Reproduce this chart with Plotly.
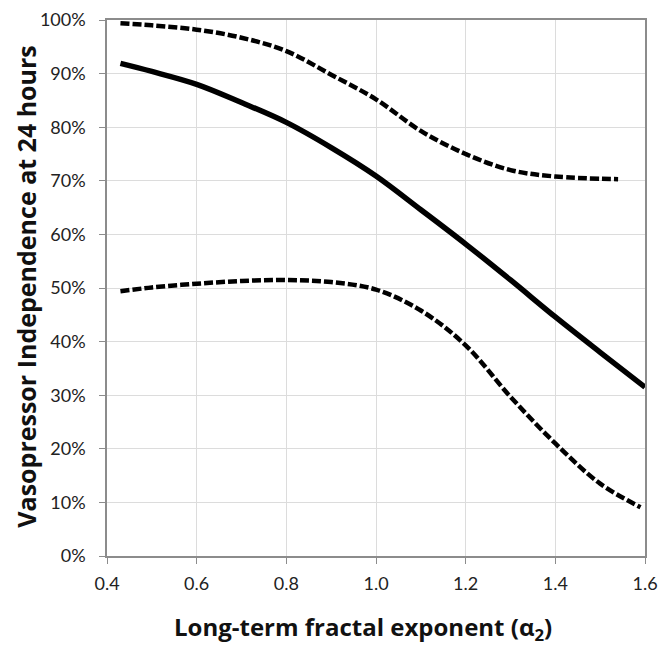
import plotly.graph_objects as go

# Estimate curve (solid)
x_est = [0.43, 0.5, 0.6, 0.7, 0.8, 0.9, 1.0, 1.1, 1.2, 1.3, 1.4, 1.5, 1.6]
y_est = [91.9, 90.4, 88.0, 84.6, 80.9, 76.2, 70.9, 64.6, 58.2, 51.5, 44.6, 38.0, 31.5]

# Upper confidence bound (dashed)
x_up = [0.43, 0.5, 0.6, 0.7, 0.8, 0.9, 1.0, 1.1, 1.2, 1.3, 1.4, 1.54]
y_up = [99.4, 99.0, 98.2, 96.7, 94.2, 89.8, 85.2, 79.3, 75.0, 72.0, 70.8, 70.3]

# Lower confidence bound (dashed)
x_lo = [0.43, 0.5, 0.6, 0.7, 0.8, 0.9, 1.0, 1.1, 1.2, 1.3, 1.4, 1.5, 1.59]
y_lo = [49.4, 50.1, 50.8, 51.3, 51.5, 51.1, 49.7, 45.8, 39.3, 29.7, 21.0, 13.5, 9.1]

y_ticks = [0, 10, 20, 30, 40, 50, 60, 70, 80, 90, 100]
y_tick_text = [f"{v}%" for v in y_ticks]
x_ticks = [0.4, 0.6, 0.8, 1.0, 1.2, 1.4, 1.6]
x_tick_text = ["0.4", "0.6", "0.8", "1.0", "1.2", "1.4", "1.6"]

x_title = "<b>Long-term fractal exponent (α<sub>2</sub>)</b>"
y_title = "<b>Vasopressor Independence at 24 hours</b>"

fig = go.Figure()
fig.add_trace(go.Scatter(x=x_up, y=y_up, mode="lines",
                         line=dict(color="black", width=4.5, dash="9px,3px", shape="spline"),
                         showlegend=False))
fig.add_trace(go.Scatter(x=x_lo, y=y_lo, mode="lines",
                         line=dict(color="black", width=4.5, dash="9px,3px", shape="spline"),
                         showlegend=False))
fig.add_trace(go.Scatter(x=x_est, y=y_est, mode="lines",
                         line=dict(color="black", width=5.5, shape="spline"),
                         showlegend=False))

tick_font = "Lato, 'Open Sans', sans-serif"
title_font = "'Open Sans', Lato, sans-serif"
fig.update_layout(
    width=658, height=645,
    margin=dict(l=107, r=13, t=20, b=89),
    paper_bgcolor="white", plot_bgcolor="white",
    font=dict(family=tick_font, color="#222222"),
    xaxis=dict(
        range=[0.4, 1.6], tickvals=x_ticks, ticktext=x_tick_text,
        showgrid=True, gridcolor="#dcdcdc", gridwidth=1,
        showline=True, linecolor="#8c8c8c", linewidth=1.5, mirror=True,
        ticks="outside", ticklen=6, tickcolor="#8c8c8c", ticklabelstandoff=5,
        tickfont=dict(size=18, color="#222222", family=tick_font), zeroline=False,
        automargin=False,
    ),
    yaxis=dict(
        range=[0, 100], tickvals=y_ticks, ticktext=y_tick_text,
        showgrid=True, gridcolor="#dcdcdc", gridwidth=1,
        showline=True, linecolor="#8c8c8c", linewidth=1.5, mirror=True,
        ticks="outside", ticklen=6, tickcolor="#8c8c8c", ticklabelstandoff=10,
        tickfont=dict(size=18, color="#222222", family=tick_font), zeroline=False,
        automargin=False,
    ),
    annotations=[
        dict(text=x_title, xref="paper", yref="paper", x=0.476, y=-0.134,
             xanchor="center", yanchor="middle", showarrow=False,
             font=dict(size=24, color="#111111", family=title_font)),
        dict(text=y_title, xref="paper", yref="paper", x=-0.151, y=0.502,
             xanchor="center", yanchor="middle", showarrow=False, textangle=-90,
             font=dict(size=25, color="#111111", family=title_font)),
    ],
)

fig.write_html("out.html")
